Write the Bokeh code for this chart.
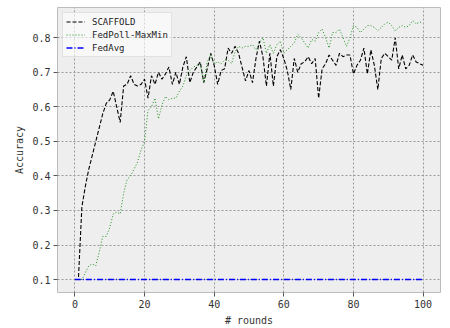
from bokeh.plotting import figure
from bokeh.models import Range1d, FixedTicker, Legend, LegendItem
from bokeh.embed import file_html
from bokeh.resources import INLINE

rounds = list(range(0, 101))

scaffold = [0.10, 0.10, 0.31, 0.37, 0.42, 0.46, 0.50, 0.54, 0.58, 0.61,
            0.62, 0.645, 0.60, 0.555, 0.66, 0.665, 0.69, 0.665, 0.66, 0.665,
            0.68, 0.625, 0.69, 0.665, 0.70, 0.68, 0.695, 0.715, 0.665, 0.70,
            0.665, 0.715, 0.745, 0.67, 0.70, 0.715, 0.73, 0.67, 0.71, 0.755,
            0.72, 0.665, 0.705, 0.71, 0.77, 0.755, 0.775, 0.755, 0.715, 0.675,
            0.705, 0.67, 0.74, 0.79, 0.745, 0.66, 0.755, 0.66, 0.745, 0.765,
            0.74, 0.705, 0.65, 0.74, 0.70, 0.725, 0.73, 0.745, 0.725, 0.74,
            0.625, 0.71, 0.725, 0.75, 0.735, 0.72, 0.755, 0.745, 0.75, 0.75,
            0.695, 0.72, 0.735, 0.77, 0.695, 0.765, 0.72, 0.65, 0.74, 0.755,
            0.745, 0.735, 0.80, 0.71, 0.75, 0.71, 0.72, 0.75, 0.73, 0.725,
            0.72]

fedpoll = [0.10, 0.10, 0.10, 0.12, 0.14, 0.145, 0.14, 0.18, 0.225, 0.225,
           0.25, 0.29, 0.295, 0.29, 0.35, 0.39, 0.40, 0.42, 0.44, 0.475,
           0.50, 0.59, 0.60, 0.625, 0.565, 0.605, 0.63, 0.62, 0.625, 0.625,
           0.645, 0.66, 0.69, 0.705, 0.715, 0.72, 0.725, 0.67, 0.73, 0.75,
           0.725, 0.73, 0.725, 0.735, 0.735, 0.725, 0.76, 0.775, 0.77, 0.775,
           0.775, 0.78, 0.765, 0.785, 0.80, 0.755, 0.78, 0.755, 0.78, 0.79,
           0.755, 0.765, 0.775, 0.785, 0.81, 0.80, 0.785, 0.77, 0.795, 0.79,
           0.815, 0.825, 0.80, 0.77, 0.815, 0.815, 0.825, 0.80, 0.775, 0.80,
           0.835, 0.83, 0.815, 0.825, 0.835, 0.835, 0.83, 0.82, 0.83, 0.84,
           0.845, 0.835, 0.82, 0.83, 0.835, 0.83, 0.835, 0.85, 0.84, 0.845,
           0.845]

fedavg = [0.10, 0.10, 0.10, 0.10, 0.10, 0.10, 0.10, 0.10, 0.10, 0.10,
          0.10, 0.10, 0.10, 0.10, 0.10, 0.10, 0.10, 0.10, 0.10, 0.10,
          0.10, 0.10, 0.10, 0.10, 0.10, 0.10, 0.10, 0.10, 0.10, 0.10,
          0.10, 0.10, 0.10, 0.10, 0.10, 0.10, 0.10, 0.10, 0.10, 0.10,
          0.10, 0.10, 0.10, 0.10, 0.10, 0.10, 0.10, 0.10, 0.10, 0.10,
          0.10, 0.10, 0.10, 0.10, 0.10, 0.10, 0.10, 0.10, 0.10, 0.10,
          0.10, 0.10, 0.10, 0.10, 0.10, 0.10, 0.10, 0.10, 0.10, 0.10,
          0.10, 0.10, 0.10, 0.10, 0.10, 0.10, 0.10, 0.10, 0.10, 0.10,
          0.10, 0.10, 0.10, 0.10, 0.10, 0.10, 0.10, 0.10, 0.10, 0.10,
          0.10, 0.10, 0.10, 0.10, 0.10, 0.10, 0.10, 0.10, 0.10, 0.10,
          0.10]

x_ticks = [0, 20, 40, 60, 80, 100]
y_ticks = [0.1, 0.2, 0.3, 0.4, 0.5, 0.6, 0.7, 0.8]
series_names = ["SCAFFOLD", "FedPoll-MaxMin", "FedAvg"]

MONO = "DejaVu Sans Mono"

p = figure(width=450, height=328, output_backend="svg", toolbar_location=None,
           x_range=Range1d(-5, 105), y_range=Range1d(0.0625, 0.8875),
           min_border_left=57, min_border_right=10, min_border_top=7,
           min_border_bottom=36)

p.background_fill_color = "#eeeeee"
p.border_fill_color = "white"
p.outline_line_color = "#bcbcbc"
p.outline_line_width = 1

for ax in (p.xaxis[0], p.yaxis[0]):
    ax.axis_line_color = None
    ax.major_tick_line_color = "#555555"
    ax.major_tick_out = 4
    ax.major_tick_in = 0
    ax.minor_tick_line_color = None
    ax.major_label_text_font = MONO
    ax.major_label_text_font_size = "10px"
    ax.major_label_text_color = "#333333"
    ax.axis_label_text_font = MONO
    ax.axis_label_text_font_size = "10px"
    ax.axis_label_text_font_style = "normal"
    ax.axis_label_text_color = "#333333"
    ax.major_label_standoff = 3

p.xaxis[0].ticker = FixedTicker(ticks=x_ticks)
p.yaxis[0].ticker = FixedTicker(ticks=y_ticks)
p.xaxis[0].axis_label = "# rounds"
p.yaxis[0].axis_label = "Accuracy"
p.xaxis[0].axis_label_standoff = 4
p.yaxis[0].axis_label_standoff = 4

for g in (p.xgrid[0], p.ygrid[0]):
    g.grid_line_color = "#999999"
    g.grid_line_dash = "2 2"
    g.grid_line_width = 1
p.xgrid[0].ticker = FixedTicker(ticks=x_ticks)
p.ygrid[0].ticker = FixedTicker(ticks=y_ticks)

r1 = p.line(rounds, scaffold, line_color="black", line_width=1.1, line_dash="4 2")
r2 = p.line(rounds, fedpoll, line_color="#1e8f1e", line_width=1.0, line_dash="1 2")
r3 = p.line(rounds, fedavg, line_color="#0000ff", line_width=1.4, line_dash="6 2 1 2")

legend = Legend(items=[LegendItem(label=series_names[0], renderers=[r1]),
                       LegendItem(label=series_names[1], renderers=[r2]),
                       LegendItem(label=series_names[2], renderers=[r3])],
                location="top_left")
legend.margin = 5
legend.padding = 3
legend.spacing = 2
legend.label_height = 11
legend.glyph_height = 11
legend.glyph_width = 19
legend.label_standoff = 7
legend.label_text_font = MONO
legend.label_text_font_size = "9px"
legend.label_text_color = "#222222"
legend.background_fill_color = "white"
legend.background_fill_alpha = 0.6
legend.border_line_color = "#cccccc"
legend.border_line_width = 1
p.add_layout(legend)

open("out.html", "w").write(file_html(p, INLINE))
